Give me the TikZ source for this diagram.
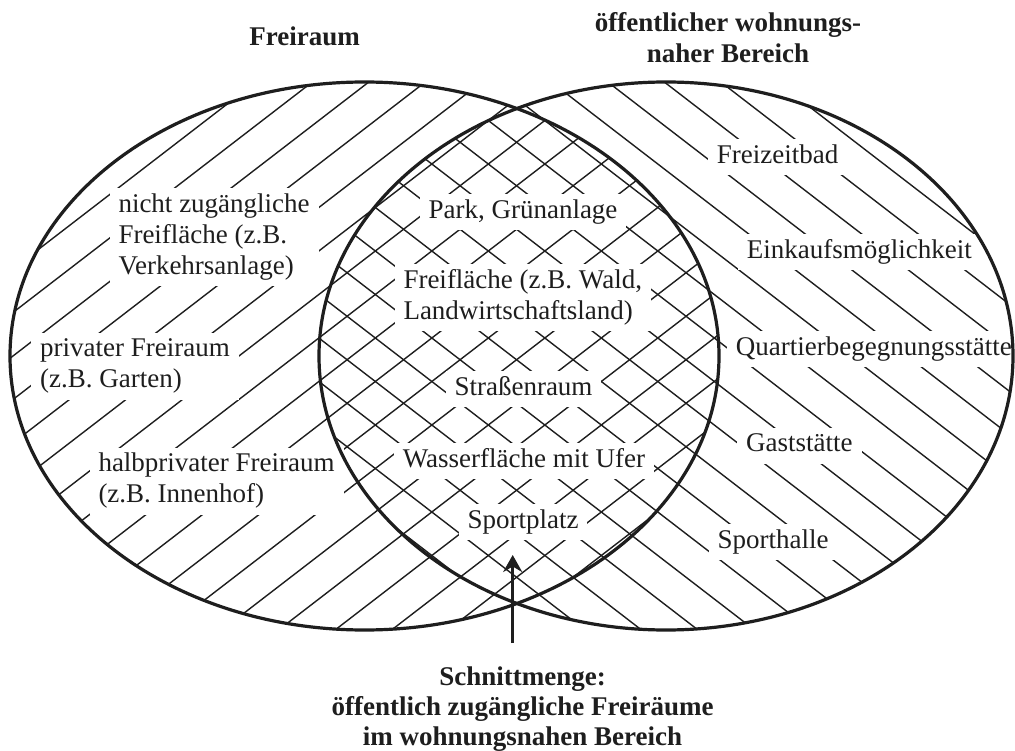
\documentclass[tikz,border=0pt]{standalone}
\usepackage{fontspec}
\setmainfont{Liberation Serif}
\usetikzlibrary{arrows.meta}
\definecolor{ink}{RGB}{30,30,30}
\begin{document}
\begin{tikzpicture}[x=1pt,y=-1pt,
  hatch/.style={draw=ink,line width=1.4pt},
  outline/.style={draw=ink,line width=3.2pt},
  lbl/.style={fill=white,text=ink,font=\fontsize{27}{31}\selectfont,inner xsep=9pt,inner ysep=2.5pt,align=left,anchor=north west},
  clbl/.style={lbl,align=center,anchor=north},
  title/.style={text=ink,font=\fontsize{27}{31}\selectfont\bfseries,inner sep=0pt,align=center,anchor=north},
  pointer/.style={draw=ink,line width=3.4pt,-{Stealth[length=17pt,width=19pt]}}
]
\useasboundingbox (0,0) rectangle (1015,751);
\fill[white] (0,0) rectangle (1015,751);
% hatching of left set
\begin{scope}
  \clip (364.5,356) ellipse [x radius=354.5pt,y radius=274pt];
  \foreach \n in {-17,...,12}{
    \draw[hatch] (0,{801+43.5*\n}) -- (1015,{801+43.5*\n-781.55});
  }
\end{scope}
% hatching of right set
\begin{scope}
  \clip (666,356) ellipse [x radius=347pt,y radius=274pt];
  \foreach \n in {-18,...,9}{
    \draw[hatch] (0,{49+43.5*\n}) -- (1015,{49+43.5*\n+781.55});
  }
\end{scope}
% titles
\node[title] (tleft) at (304.5,23.3) {\strut Freiraum};
\node[title] (tright) at (728,9.3) {\strut öffentlicher wohnungs-\\\strut naher Bereich};
% left labels
\node[lbl] (l1) at (109.3,188) {\strut nicht zugängliche\\\strut Freifläche (z.B.\\\strut Verkehrsanlage)};
\node[lbl] (l2) at (31,332.5) {\strut privater Freiraum\\\strut (z.B. Garten)};
\node[lbl] (l3) at (89.3,447.5) {\strut halbprivater Freiraum\\\strut (z.B. Innenhof)};
% right labels
\node[lbl] (r1) at (707.7,139.1) {\strut Freizeitbad};
\node[lbl] (r2) at (737.7,234.1) {\strut Einkaufsmöglichkeit};
\node[lbl] (r3) at (726.7,330.8) {\strut Quartierbegegnungsstätte};
\node[lbl] (r4) at (737,427.5) {\strut Gaststätte};
\node[lbl] (r5) at (708.3,524.1) {\strut Sporthalle};
% intersection labels
\node[clbl] (m1) at (523,193.8) {\strut Park, Grünanlage};
\node[lbl] (m2) at (394.3,263.8) {\strut Freifläche (z.B. Wald,\\\strut Landwirtschaftsland)};
\node[clbl] (m3) at (523.5,370.8) {\strut Straßenraum};
\node[clbl] (m4) at (524,442.8) {\strut Wasserfläche mit Ufer};
\node[clbl] (m5) at (523,503.8) {\strut Sportplatz};
% outlines
\draw[outline] (364.5,356) ellipse [x radius=354.5pt,y radius=274pt];
\draw[outline] (666,356) ellipse [x radius=347pt,y radius=274pt];
% bottom caption and arrow
\node[title,font=\fontsize{27}{30}\selectfont\bfseries] (schnitt) at (522.5,664)
  {\strut Schnittmenge:\\\strut öffentlich zugängliche Freiräume\\\strut im wohnungsnahen Bereich};
\coordinate (astart) at (512.7,643);
\coordinate (atip) at (512.7,555);
\draw[pointer] (astart) -- (atip);
\end{tikzpicture}
\end{document}
